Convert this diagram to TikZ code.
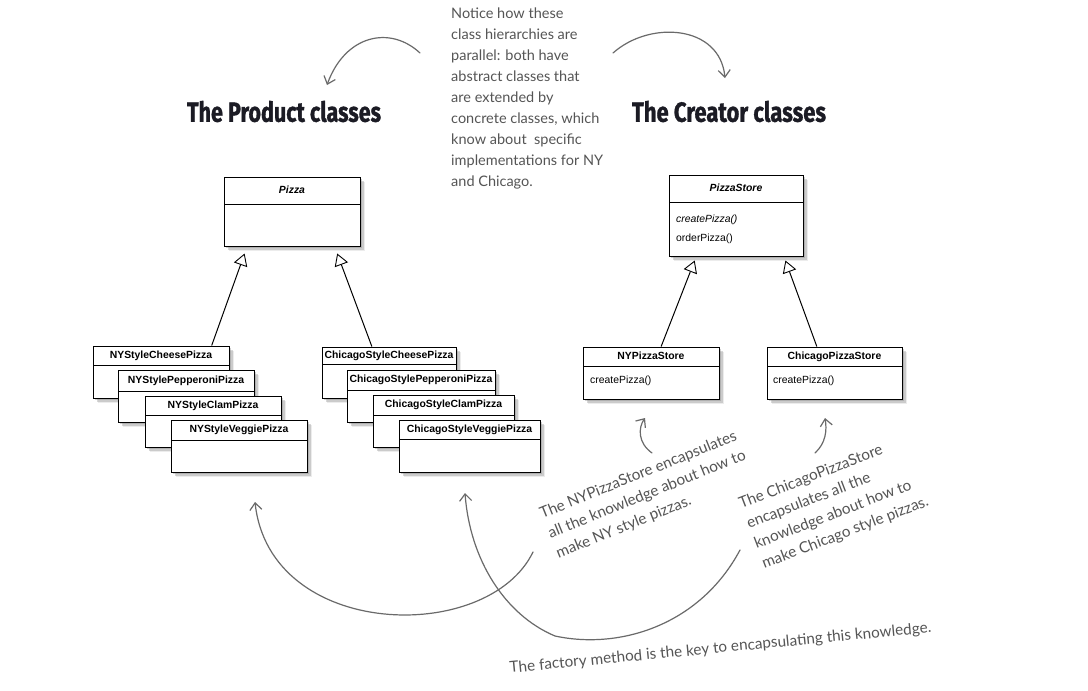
\documentclass[tikz,border=0pt]{standalone}
\usepackage{fontspec}
\usepackage{graphicx}
\setmainfont{Liberation Sans}
\newfontfamily\handfont{Lato}
\newfontfamily\titlefont[BoldFeatures={FakeBold=1.3}]{Fira Sans}
\usetikzlibrary{arrows.meta,shadows,fit,calc}
\definecolor{pen}{HTML}{555555}
\definecolor{arrowgray}{HTML}{6A6A6A}
\definecolor{titleink}{HTML}{1B1B24}
\newcommand\umlclass[7]{%
  \node[cls, fit={(#2,#3) (#4,#5)}] (#1) {};
  \draw[line width=1pt] (#2,#6) -- (#4,#6);
  \node[clsname] (#1-name) at ({(#2+#4)/2},{(#3+#6)/2}) {#7};
}
\begin{document}
\begin{tikzpicture}[x=1pt,y=-1pt,
  cls/.style={draw=black, fill=white, line width=1pt, inner sep=0pt,
    drop shadow={shadow xshift=5pt, shadow yshift=-5pt, opacity=0.15},
    drop shadow={shadow xshift=3.5pt, shadow yshift=-3.5pt, opacity=0.3},
    drop shadow={shadow xshift=2pt, shadow yshift=-2pt, opacity=0.35}},
  clsname/.style={font=\fontsize{10.4}{12}\selectfont\bfseries, inner sep=0pt, text height=7.5pt, text depth=2pt},
  meth/.style={font=\fontsize{10.4}{12}\selectfont, inner sep=0pt, anchor=base west},
  inh/.style={line width=1pt, -{Triangle[open, length=12pt, width=14pt, line width=0.9pt]}},
  sketch/.style={draw=arrowgray, line width=1.2pt, line cap=round, -{Straight Barb[length=7pt, width=12pt]}},
  notetext/.style={font=\handfont\fontsize{14.5}{21}\selectfont, text=pen, inner sep=0pt, align=left},
  bignote/.style={notetext, font=\handfont\fontsize{15.3}{21.5}\selectfont},
  title/.style={font=\titlefont\bfseries, text=titleink, inner sep=0pt}
]
\fill[white] (0,0) rectangle (1088,691);
\useasboundingbox (0,0) rectangle (1088,691);

% titles
\node[title] (prodtitle) at (284,111.5) {\resizebox{194pt}{21pt}{The Product classes}};
\node[title] (creatitle) at (729,111.5) {\resizebox{194pt}{21pt}{The Creator classes}};

% notice text
\node[notetext, anchor=north west] (notice) at (451,8) {Notice how these\\class hierarchies are\\parallel: both have\\abstract classes that\\are extended by\\concrete classes, which\\know about\ \ specific\\implementations for NY\\and Chicago.};

% product classes
\umlclass{pizza}{224}{177}{360}{246}{204}{\itshape Pizza}
\umlclass{nycheese}{93}{346}{229}{398}{365}{NYStyleCheesePizza}
\umlclass{nypep}{118}{370}{254}{422}{391}{NYStylePepperoniPizza}
\umlclass{nyclam}{145}{396}{281}{447}{415}{NYStyleClamPizza}
\umlclass{nyveg}{171}{420}{307}{472}{440}{NYStyleVeggiePizza}
\umlclass{chcheese}{322}{347}{456}{398}{364}{ChicagoStyleCheesePizza}
\umlclass{chpep}{347}{370}{495}{422}{390}{ChicagoStylePepperoniPizza}
\umlclass{chclam}{373}{395}{514}{447}{415}{ChicagoStyleClamPizza}
\umlclass{chveg}{399}{420}{540}{472}{439}{ChicagoStyleVeggiePizza}

% creator classes
\umlclass{store}{669}{175}{803}{256}{202}{\itshape PizzaStore}
\node[meth] (store-m1) at (676,222.5) {\itshape createPizza()};
\node[meth] (store-m2) at (676,241.5) {orderPizza()};
\umlclass{nystore}{583}{347}{719}{399}{366}{NYPizzaStore}
\node[meth] (nystore-m1) at (590,383.5) {createPizza()};
\umlclass{chstore}{767}{347}{902}{399}{366}{ChicagoPizzaStore}
\node[meth] (chstore-m1) at (773,383.5) {createPizza()};

% inheritance
\draw[inh] ($(nycheese.north west)!0.87!(nycheese.north east)$) -- ($(pizza.south west)!0.154!(pizza.south east)+(0,7)$);
\draw[inh] ($(chcheese.north west)!0.373!(chcheese.north east)$) -- ($(pizza.south west)!0.83!(pizza.south east)+(0,7)$);
\draw[inh] ($(nystore.north west)!0.574!(nystore.north east)$) -- ($(store.south west)!0.194!(store.south east)+(0,4)$);
\draw[inh] ($(chstore.north west)!0.37!(chstore.north east)$) -- ($(store.south west)!0.866!(store.south east)+(0,4)$);

% annotations
\node[bignote, rotate=22, anchor=north west] (nynote) at (538,508) {The NYPizzaStore encapsulates\\all the knowledge about how to\\make NY style pizzas.};
\node[bignote, rotate=21, anchor=north west] (chnote) at (737,498) {The ChicagoPizzaStore\\encapsulates all the\\knowledge about how to\\make Chicago style pizzas.};
\node[bignote, rotate=5.5, anchor=base west] (keynote) at (510,673) {The factory method is the key to encapsulating this knowledge.};

% sketch arrows
\coordinate (tl-s) at (420,53);
\coordinate (tl-e) at (327,85);
\coordinate (tr-s) at (613,53);
\coordinate (tr-e) at (725,78);
\draw[sketch] (tl-s) .. controls (390,25) and (345,35) .. (tl-e);
\draw[sketch] (tr-s) .. controls (650,20) and (720,25) .. (tr-e);

\coordinate (ny-s) at (652,453);
\coordinate (ny-e) at (645,418);
\coordinate (ch-s) at (815,453);
\coordinate (ch-e) at (825,418);
\draw[sketch] (ny-s) .. controls (638,443) and (638,428) .. (ny-e);
\draw[sketch] (ch-s) .. controls (826,443) and (827,430) .. (ch-e);

\coordinate (a-s) at (533,552);
\coordinate (a-e) at (255,502);
\draw[sketch] (a-s) .. controls (488,645) and (270,640) .. (a-e);
\coordinate (b-s) at (740,550);
\coordinate (b-m) at (555,636);
\coordinate (b-e) at (465,493);
\draw[sketch] (b-s) .. controls (700,625) and (620,650) .. (b-m) .. controls (505,615) and (470,560) .. (b-e);
\end{tikzpicture}
\end{document}
